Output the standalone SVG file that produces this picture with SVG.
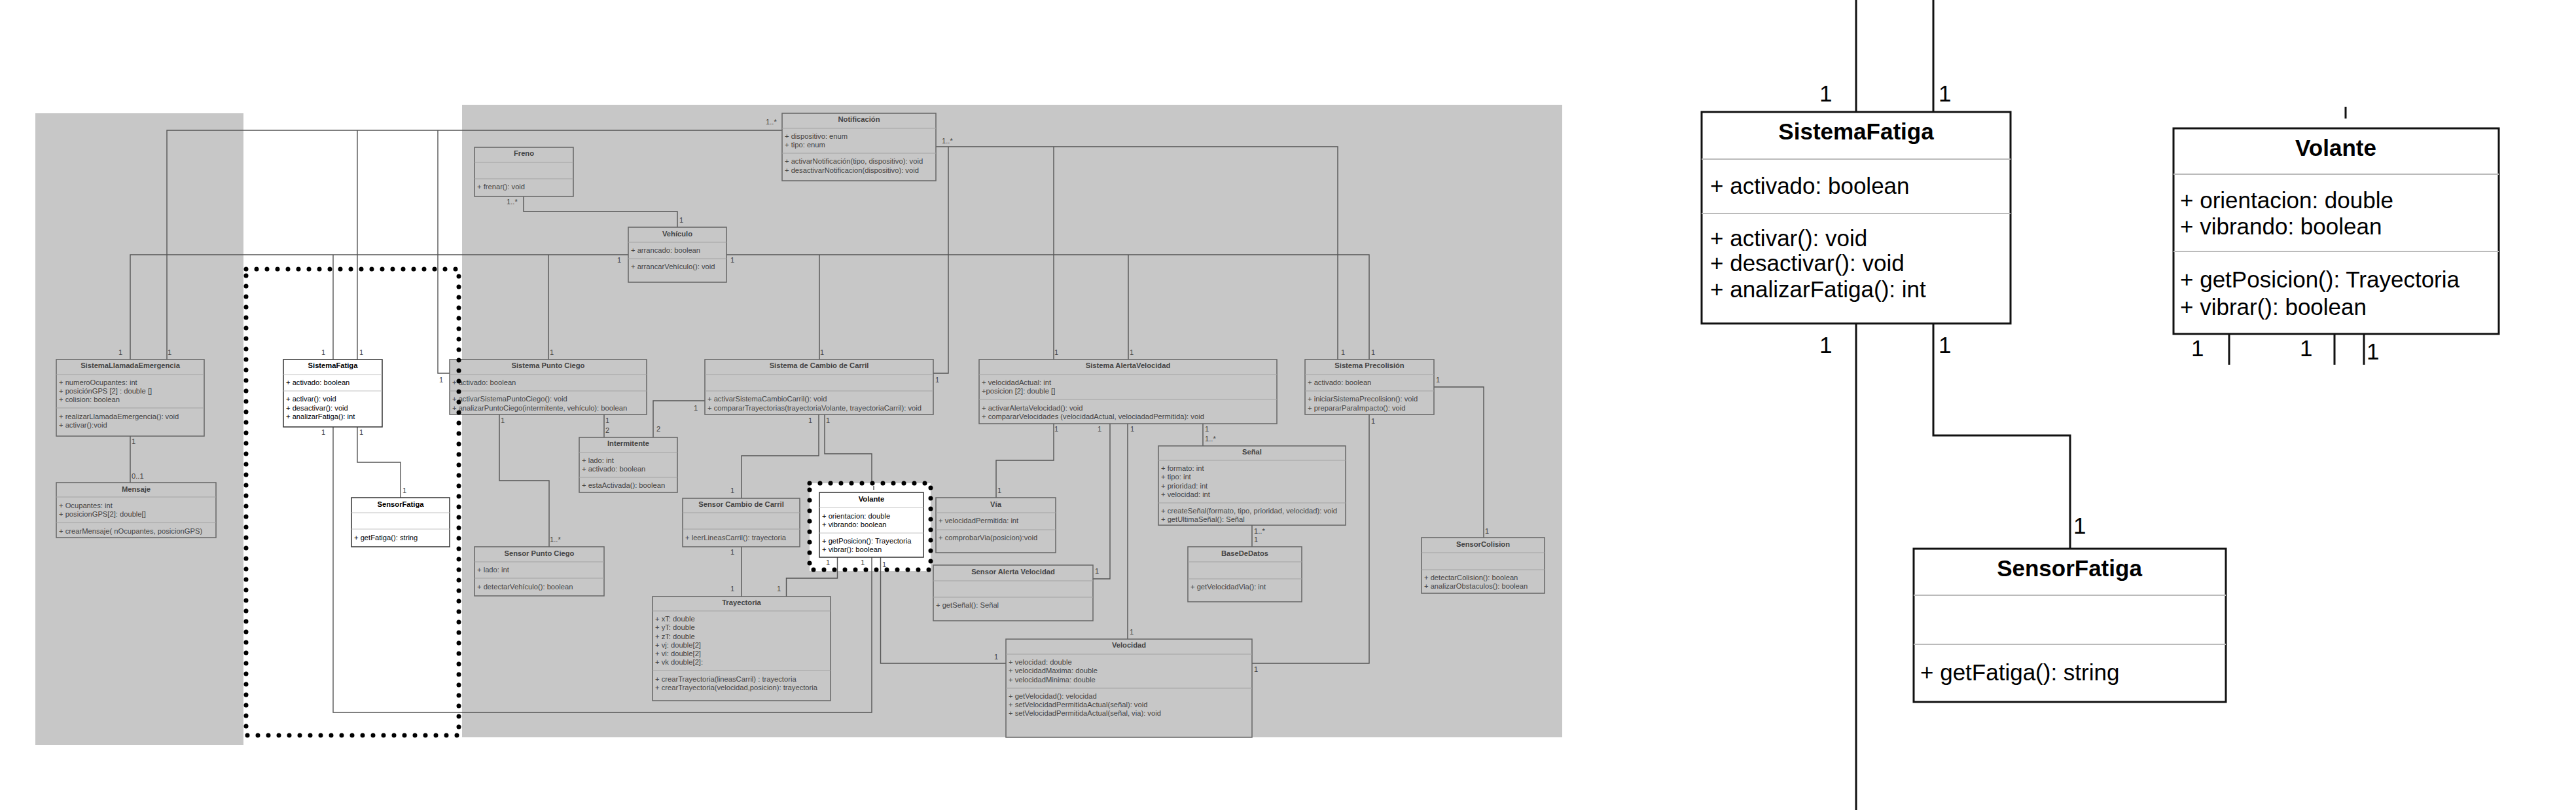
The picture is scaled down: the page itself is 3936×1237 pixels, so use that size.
<svg xmlns="http://www.w3.org/2000/svg" width="3936" height="1237" viewBox="0 0 3936 1237">
<style>
.bg{fill:#c7c7c7}
.box{fill:#c7c7c7;stroke:#666;stroke-width:1.5}
.wbox{fill:#fff;stroke:#333;stroke-width:1.5}
.sep{stroke:#a3a3a3;stroke-width:1.2}
.wsep{stroke:#c4c4c4;stroke-width:1.2}
.t{font-family:"Liberation Sans",Arial,sans-serif;font-size:11.2px;fill:#444}
.b{font-weight:bold;text-anchor:middle}
.k{fill:#000}
.conn path{fill:none;stroke:#555;stroke-width:1.4}
.dots{fill:none;stroke:#000;stroke-width:7;stroke-dasharray:0 16;stroke-linecap:round}
.zbox{fill:#fff;stroke:#111;stroke-width:3}
.zsep{stroke:#bbb;stroke-width:2}
.z{font-family:"Liberation Sans",Arial,sans-serif;font-size:35px;fill:#000}
.zconn path{fill:none;stroke:#111;stroke-width:3}
</style>
<rect width="3936" height="1237" fill="#fff"/>
<rect class="bg" x="54" y="173" width="318" height="965"/>
<rect class="bg" x="706" y="160" width="1681" height="966"/>
<rect x="1237" y="738" width="185" height="134" fill="#fff"/>

<g id="connectors" class="conn">
<path d="M255,549V199H1195M546,199V549M669,199V570H687"/>
<path d="M199,549V389H960M1110,389H2092V549M509,389V549M838,389V549M1252,389V549M1724,389V549"/>
<path d="M1430,224H2044V549M1449,224V570H1426M1610,224V549"/>
<path d="M800,300V323H1035V347"/>
<path d="M199,666V737"/>
<path d="M546,652V706H612V760"/>
<path d="M509,652V1088H1332V851"/>
<path d="M923,633V668"/>
<path d="M1077,612H998V668"/>
<path d="M763,633V734H839V835"/>
<path d="M1251,633V696H1133V761"/>
<path d="M1260,633V693H1332V738"/>
<path d="M1133,835V911"/>
<path d="M1279.5,851V883H1201.5V911"/>
<path d="M1345.5,851V1013H1537"/>
<path d="M1610,647V703H1522V760"/>
<path d="M1696,647V884H1670"/>
<path d="M1723,647V976"/>
<path d="M1838,647V681"/>
<path d="M1913,802V835"/>
<path d="M2191,591H2267V821"/>
<path d="M2092,633V1013H1913"/>
<path d="M1335,742V748"/>
</g>

<g id="labels" class="t">
<text x="1170" y="190">1..*</text>
<text x="1439" y="219">1..*</text>
<text x="774" y="312">1..*</text>
<text x="1038" y="340">1</text>
<text x="943" y="401">1</text>
<text x="1116" y="401">1</text>
<text x="181" y="542">1</text>
<text x="256" y="542">1</text>
<text x="491" y="542">1</text>
<text x="549" y="542">1</text>
<text x="840" y="542">1</text>
<text x="1253" y="542">1</text>
<text x="1611" y="542">1</text>
<text x="1726" y="542">1</text>
<text x="2049" y="542">1</text>
<text x="2095" y="542">1</text>
<text x="671" y="584">1</text>
<text x="1429" y="584">1</text>
<text x="2194" y="584">1</text>
<text x="1060" y="627">1</text>
<text x="201" y="678">1</text>
<text x="201" y="731">0..1</text>
<text x="491" y="664">1</text>
<text x="549" y="664">1</text>
<text x="615" y="753">1</text>
<text x="765" y="646">1</text>
<text x="925" y="646">1</text>
<text x="925" y="661">2</text>
<text x="1003" y="659">2</text>
<text x="840" y="828">1..*</text>
<text x="1235" y="646">1</text>
<text x="1262" y="646">1</text>
<text x="1116" y="753">1</text>
<text x="1116" y="847">1</text>
<text x="1116" y="903">1</text>
<text x="1187" y="903">1</text>
<text x="1262" y="863">1</text>
<text x="1315" y="863">1</text>
<text x="1348" y="866">1</text>
<text x="1519" y="1007">1</text>
<text x="1611" y="659">1</text>
<text x="1677" y="659">1</text>
<text x="1727" y="659">1</text>
<text x="1841" y="659">1</text>
<text x="1841" y="674">1..*</text>
<text x="1524" y="753">1</text>
<text x="1673" y="876">1</text>
<text x="1726" y="969">1</text>
<text x="1916" y="815">1..*</text>
<text x="1916" y="828">1</text>
<text x="2269" y="815">1</text>
<text x="2095" y="647">1</text>
<text x="1916" y="1026">1</text>
</g>

<g id="Notificacion" class="t">
<rect class="box" x="1195" y="173" width="235" height="103"/>
<path class="sep" d="M1195,196H1430M1195,234H1430"/>
<text class="b" x="1312.5" y="186">Notificación</text>
<text x="1199" y="212">+ dispositivo: enum</text>
<text x="1199" y="225">+ tipo: enum</text>
<text x="1199" y="250">+ activarNotificación(tipo, dispositivo): void</text>
<text x="1199" y="264">+ desactivarNotificacion(dispositivo): void</text>
</g>

<g id="Freno" class="t">
<rect class="box" x="725" y="225" width="151" height="75"/>
<path class="sep" d="M725,248H876M725,273H876"/>
<text class="b" x="800.5" y="238">Freno</text>
<text x="729" y="289">+ frenar(): void</text>
</g>

<g id="Vehiculo" class="t">
<rect class="box" x="960" y="347" width="150" height="84"/>
<path class="sep" d="M960,370H1110M960,395H1110"/>
<text class="b" x="1035" y="361">Vehículo</text>
<text x="964" y="386">+ arrancado: boolean</text>
<text x="964" y="411">+ arrancarVehículo(): void</text>
</g>

<g id="SistemaLlamadaEmergencia" class="t">
<rect class="box" x="86" y="549" width="226" height="117"/>
<path class="sep" d="M86,572H312M86,623H312"/>
<text class="b" x="199" y="562">SistemaLlamadaEmergencia</text>
<text x="90" y="588">+ numeroOcupantes: int</text>
<text x="90" y="601">+ posiciónGPS [2] : double []</text>
<text x="90" y="614">+ colision: boolean</text>
<text x="90" y="640">+ realizarLlamadaEmergencia(): void</text>
<text x="90" y="653">+ activar():void</text>
</g>

<g id="Mensaje" class="t">
<rect class="box" x="86" y="737" width="244" height="84"/>
<path class="sep" d="M86,759H330M86,798H330"/>
<text class="b" x="208" y="751">Mensaje</text>
<text x="90" y="776">+ Ocupantes: int</text>
<text x="90" y="789">+ posicionGPS[2]: double[]</text>
<text x="90" y="815">+ crearMensaje( nOcupantes, posicionGPS)</text>
</g>

<g id="SistemaFatiga" class="t k">
<rect class="wbox" x="433" y="549" width="151" height="103"/>
<path class="wsep" d="M433,572H584M433,597H584"/>
<text class="b k" x="508.5" y="562">SistemaFatiga</text>
<text class="k" x="437" y="588">+ activado: boolean</text>
<text class="k" x="437" y="613">+ activar(): void</text>
<text class="k" x="437" y="627">+ desactivar(): void</text>
<text class="k" x="437" y="640">+ analizarFatiga(): int</text>
</g>

<g id="SensorFatiga" class="t">
<rect class="wbox" x="537" y="760" width="150" height="75"/>
<path class="wsep" d="M537,783H687M537,808H687"/>
<text class="b k" x="612" y="774">SensorFatiga</text>
<text class="k" x="541" y="825">+ getFatiga(): string</text>
</g>

<g id="SistemaPuntoCiego" class="t">
<rect class="box" x="687" y="549" width="301" height="84"/>
<path class="sep" d="M687,572H988M687,597H988"/>
<text class="b" x="837.5" y="562">Sistema Punto Ciego</text>
<text x="691" y="588">+ activado: boolean</text>
<text x="691" y="613">+ activarSistemaPuntoCiego(): void</text>
<text x="691" y="627">+ analizarPuntoCiego(intermitente, vehículo): boolean</text>
</g>

<g id="Intermitente" class="t">
<rect class="box" x="885" y="668" width="150" height="84"/>
<path class="sep" d="M885,691H1035M885,729H1035"/>
<text class="b" x="960" y="681">Intermitente</text>
<text x="889" y="707">+ lado: int</text>
<text x="889" y="720">+ activado: boolean</text>
<text x="889" y="745">+ estaActivada(): boolean</text>
</g>

<g id="SensorPuntoCiego" class="t">
<rect class="box" x="725" y="835" width="198" height="75"/>
<path class="sep" d="M725,858H923M725,883H923"/>
<text class="b" x="824" y="849">Sensor Punto Ciego</text>
<text x="729" y="874">+ lado: int</text>
<text x="729" y="900">+ detectarVehículo(): boolean</text>
</g>

<g id="SistemaCambioCarril" class="t">
<rect class="box" x="1077" y="549" width="349" height="84"/>
<path class="sep" d="M1077,572H1426M1077,597H1426"/>
<text class="b" x="1251.5" y="562">Sistema de Cambio de Carril</text>
<text x="1081" y="613">+ activarSistemaCambioCarril(): void</text>
<text x="1081" y="627">+ compararTrayectorias(trayectoriaVolante, trayectoriaCarril): void</text>
</g>

<g id="SensorCambioCarril" class="t">
<rect class="box" x="1043" y="761" width="179" height="74"/>
<path class="sep" d="M1043,783H1222M1043,808H1222"/>
<text class="b" x="1132.5" y="774">Sensor Cambio de Carril</text>
<text x="1047" y="825">+ leerLineasCarril(): trayectoria</text>
</g>

<g id="Trayectoria" class="t">
<rect class="box" x="997" y="911" width="272" height="159"/>
<path class="sep" d="M997,933H1269M997,1024H1269"/>
<text class="b" x="1133" y="924">Trayectoria</text>
<text x="1001" y="949">+ xT: double</text>
<text x="1001" y="962">+ yT: double</text>
<text x="1001" y="976">+ zT: double</text>
<text x="1001" y="989">+ vj: double[2]</text>
<text x="1001" y="1002">+ vi: double[2]</text>
<text x="1001" y="1015">+ vk double[2]:</text>
<text x="1001" y="1041">+ crearTrayectoria(lineasCarril) : trayectoria</text>
<text x="1001" y="1054">+ crearTrayectoria(velocidad,posicion): trayectoria</text>
</g>

<g id="Volante" class="t">
<rect class="wbox" x="1252" y="752" width="159" height="99"/>
<path class="wsep" d="M1252,775H1411M1252,814H1411"/>
<text class="b k" x="1331.5" y="766">Volante</text>
<text class="k" x="1256" y="792">+ orientacion: double</text>
<text class="k" x="1256" y="805">+ vibrando: boolean</text>
<text class="k" x="1256" y="830">+ getPosicion(): Trayectoria</text>
<text class="k" x="1256" y="843">+ vibrar(): boolean</text>
</g>

<g id="Via" class="t">
<rect class="box" x="1430" y="760" width="183" height="84"/>
<path class="sep" d="M1430,783H1613M1430,809H1613"/>
<text class="b" x="1521.5" y="774">Vía</text>
<text x="1434" y="799">+ velocidadPermitida: int</text>
<text x="1434" y="825">+ comprobarVia(posicion):void</text>
</g>

<g id="SensorAlertaVelocidad" class="t">
<rect class="box" x="1426" y="863" width="244" height="85"/>
<path class="sep" d="M1426,887H1670M1426,912H1670"/>
<text class="b" x="1548" y="877">Sensor Alerta Velocidad</text>
<text x="1430" y="928">+ getSeñal(): Señal</text>
</g>

<g id="SistemaAlertaVelocidad" class="t">
<rect class="box" x="1496" y="549" width="455" height="98"/>
<path class="sep" d="M1496,572H1951M1496,610H1951"/>
<text class="b" x="1723.5" y="562">Sistema AlertaVelocidad</text>
<text x="1500" y="588">+ velocidadActual: int</text>
<text x="1500" y="601">+posicion [2]: double []</text>
<text x="1500" y="627">+ activarAlertaVelocidad(): void</text>
<text x="1500" y="640">+ compararVelocidades (velocidadActual, velociadadPermitida): void</text>
</g>

<g id="Senal" class="t">
<rect class="box" x="1770" y="681" width="286" height="121"/>
<path class="sep" d="M1770,703H2056M1770,768H2056"/>
<text class="b" x="1913" y="694">Señal</text>
<text x="1774" y="719">+ formato: int</text>
<text x="1774" y="732">+ tipo: int</text>
<text x="1774" y="746">+ prioridad: int</text>
<text x="1774" y="759">+ velocidad: int</text>
<text x="1774" y="784">+ createSeñal(formato, tipo, prioridad, velocidad): void</text>
<text x="1774" y="797">+ getUltimaSeñal(): Señal</text>
</g>

<g id="BaseDeDatos" class="t">
<rect class="box" x="1815" y="835" width="174" height="84"/>
<path class="sep" d="M1815,858H1989M1815,884H1989"/>
<text class="b" x="1902" y="849">BaseDeDatos</text>
<text x="1819" y="900">+ getVelocidadVia(): int</text>
</g>

<g id="Velocidad" class="t">
<rect class="box" x="1537" y="976" width="376" height="150"/>
<path class="sep" d="M1537,999H1913M1537,1051H1913"/>
<text class="b" x="1725" y="989">Velocidad</text>
<text x="1541" y="1015">+ velocidad: double</text>
<text x="1541" y="1028">+ velocidadMaxima: double</text>
<text x="1541" y="1042">+ velocidadMinima: double</text>
<text x="1541" y="1067">+ getVelocidad(): velocidad</text>
<text x="1541" y="1080">+ setVelocidadPermitidaActual(señal): void</text>
<text x="1541" y="1093">+ setVelocidadPermitidaActual(señal, via): void</text>
</g>

<g id="SistemaPrecolision" class="t">
<rect class="box" x="1994" y="549" width="197" height="84"/>
<path class="sep" d="M1994,572H2191M1994,597H2191"/>
<text class="b" x="2092.5" y="562">Sistema Precolisión</text>
<text x="1998" y="588">+ activado: boolean</text>
<text x="1998" y="613">+ iniciarSistemaPrecolision(): void</text>
<text x="1998" y="627">+ prepararParaImpacto(): void</text>
</g>

<g id="SensorColision" class="t">
<rect class="box" x="2172" y="821" width="188" height="85"/>
<path class="sep" d="M2172,844H2360M2172,870H2360"/>
<text class="b" x="2266" y="835">SensorColision</text>
<text x="2176" y="886">+ detectarColision(): boolean</text>
<text x="2176" y="899">+ analizarObstaculos(): boolean</text>
</g>

<g id="highlights">
<rect class="dots" x="376" y="411" width="325" height="712"/>
<rect class="dots" x="1237" y="738" width="185" height="132"/>
</g>

<g id="zoom-connectors" class="zconn">
<path d="M2836,0V171M2836,494V1237"/>
<path d="M2954,0V171M2954,494V665H3163V838"/>
<path d="M3406,510V557M3567,510V557M3612,510V557M3584,163V181"/>
</g>
<g id="zoom-labels" class="z">
<text x="2780" y="155">1</text>
<text x="2962" y="155">1</text>
<text x="2780" y="539">1</text>
<text x="2962" y="539">1</text>
<text x="3168" y="815">1</text>
<text x="3348" y="544">1</text>
<text x="3514" y="544">1</text>
<text x="3616" y="549">1</text>
</g>
<g id="zoom-SistemaFatiga" class="z">
<rect class="zbox" x="2600" y="171" width="472" height="323"/>
<path class="zsep" d="M2600,243H3072M2600,326H3072"/>
<text x="2836" y="213" font-weight="bold" text-anchor="middle">SistemaFatiga</text>
<text x="2613" y="296">+ activado: boolean</text>
<text x="2613" y="376">+ activar(): void</text>
<text x="2613" y="414">+ desactivar(): void</text>
<text x="2613" y="454">+ analizarFatiga(): int</text>
</g>
<g id="zoom-Volante" class="z">
<rect class="zbox" x="3321" y="196" width="497" height="314"/>
<path class="zsep" d="M3321,266H3818M3321,384H3818"/>
<text x="3569" y="238" font-weight="bold" text-anchor="middle">Volante</text>
<text x="3331" y="318">+ orientacion: double</text>
<text x="3331" y="358">+ vibrando: boolean</text>
<text x="3331" y="439">+ getPosicion(): Trayectoria</text>
<text x="3331" y="481">+ vibrar(): boolean</text>
</g>
<g id="zoom-SensorFatiga" class="z">
<rect class="zbox" x="2924" y="838" width="477" height="234"/>
<path class="zsep" d="M2924,909H3401M2924,984H3401"/>
<text x="3162" y="880" font-weight="bold" text-anchor="middle">SensorFatiga</text>
<text x="2934" y="1039">+ getFatiga(): string</text>
</g>
</svg>
